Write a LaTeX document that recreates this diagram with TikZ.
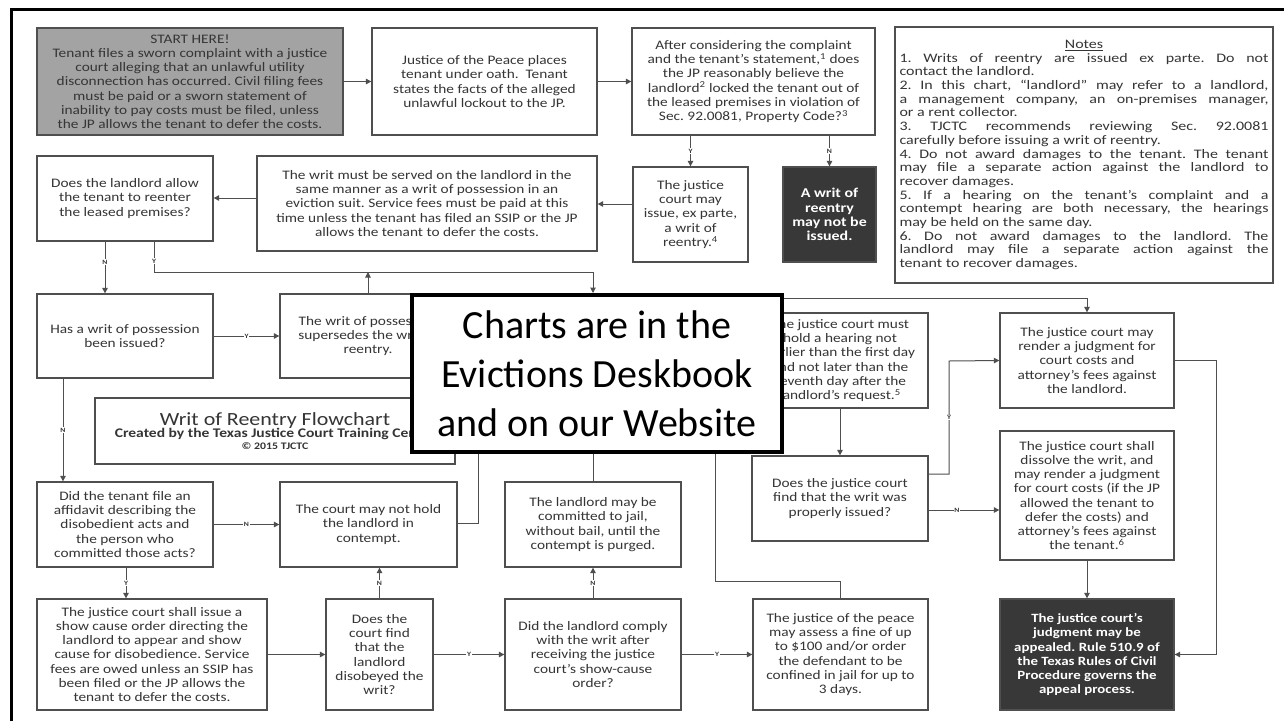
\documentclass[tikz,border=0pt]{standalone}
\usepackage{fontspec}
\setmainfont[FakeStretch=1.18]{Carlito}
\newfontfamily\plainfont{Carlito}
\newfontfamily\notesfont[FakeStretch=1.23]{Carlito}
\usetikzlibrary{arrows.meta,calc}
\definecolor{txt}{HTML}{353535}
\definecolor{edge}{HTML}{4F4F4F}
\definecolor{startfill}{HTML}{A3A3A3}
\definecolor{darkfill}{HTML}{383838}
\frenchspacing
\tikzset{
 box/.style={draw=edge, line width=1.3pt, fill=white, text=txt, align=center, inner sep=1pt, font=\fontsize{13}{14.2}\selectfont},
 dark/.style={fill=darkfill, text=white, font=\bfseries\fontsize{12.6}{14.2}\selectfont},
 conn/.style={draw=edge, line width=1pt, -{Triangle[length=5.5pt,width=5.5pt]}},
 plainline/.style={draw=edge, line width=1pt},
 lbl/.style={fill=white, text=txt, inner sep=0.8pt, font=\bfseries\fontsize{6.5}{7}\selectfont},
}
\newcommand\mybox[7][]{\node[box,#1,minimum width={(#5)-(#3)},minimum height={(#6)-(#4)}] (#2) at ({((#3)+(#5))/2},{((#4)+(#6))/2}) {#7};}
\newcommand\jline[1]{\makebox[369pt][s]{#1}\par}
\newcommand\lline[1]{\makebox[369pt][l]{#1}\par}
\begin{document}
\begin{tikzpicture}[x=1pt,y=-1pt]
\useasboundingbox (0,0) rectangle (1284,721);
\fill[white] (0,0) rectangle (1284,721);
\draw[line width=3pt] (11,721) -- (11,9) -- (1284,9);
% boxes
\mybox[fill=startfill]{start}{37}{28}{343}{135}{START HERE!\\Tenant files a sworn complaint with a justice\\court alleging that an unlawful utility\\disconnection has occurred. Civil filing fees\\must be paid or a sworn statement of\\inability to pay costs must be filed, unless\\the JP allows the tenant to defer the costs.}
\mybox{jp}{372}{28}{597}{135}{Justice of the Peace places\\tenant under oath.\ \ Tenant\\states the facts of the alleged\\unlawful lockout to the JP.}
\mybox{after}{632}{28}{875}{135}{After considering the complaint\\and the tenant’s statement,\textsuperscript{1} does\\the JP reasonably believe the\\landlord\textsuperscript{2} locked the tenant out of\\the leased premises in violation of\\Sec. 92.0081, Property Code?\textsuperscript{3}}
\node[draw=edge, line width=1.3pt, fill=white, text=txt, minimum width=378, minimum height=256, inner sep=0pt] (notes) at (1084,155) {\parbox{369pt}{\notesfont\fontsize{13}{13.7}\selectfont
\centerline{\underline{Notes}}\par
\jline{1. Writs of reentry are issued ex parte. Do not}
\lline{contact the landlord.}
\jline{2. In this chart, “landlord” may refer to a landlord,}
\jline{a management company, an on-premises manager,}
\lline{or a rent collector.}
\jline{3. TJCTC recommends reviewing Sec. 92.0081}
\lline{carefully before issuing a writ of reentry.}
\jline{4. Do not award damages to the tenant. The tenant}
\jline{may file a separate action against the landlord to}
\lline{recover damages.}
\jline{5. If a hearing on the tenant’s complaint and a}
\jline{contempt hearing are both necessary, the hearings}
\lline{may be held on the same day.}
\jline{6. Do not award damages to the landlord. The}
\jline{landlord may file a separate action against the}
\lline{tenant to recover damages.}}};
\mybox{allow}{37}{156}{213}{241}{Does the landlord allow\\the tenant to reenter\\the leased premises?}
\mybox{served}{257}{156}{597}{251}{The writ must be served on the landlord in the\\same manner as a writ of possession in an\\eviction suit. Service fees must be paid at this\\time unless the tenant has filed an SSIP or the JP\\allows the tenant to defer the costs.}
\mybox{may}{633}{167}{748}{262}{The justice\\court may\\issue, ex parte,\\a writ of\\reentry.\textsuperscript{4}}
\mybox[dark,font=\bfseries\fontsize{13.5}{14.3}\selectfont]{notissued}{783}{167}{876}{262}{A writ of\\reentry\\may not be\\issued.}
\mybox{haswrit}{37}{294}{213}{378}{Has a writ of possession\\been issued?}
\mybox{supersedes}{280}{294}{456}{378}{The writ of possession\\supersedes the writ of\\reentry.}
\mybox{musthold}{752}{313}{928}{408}{The justice court must\\hold a hearing not\\earlier than the first day\\and not later than the\\seventh day after the\\landlord’s request.\textsuperscript{5}}
\mybox{render}{1000}{313}{1174}{408}{The justice court may\\render a judgment for\\court costs and\\attorney’s fees against\\the landlord.}
\mybox{doesjustice}{752}{456}{928}{541}{Does the justice court\\find that the writ was\\properly issued?}
\mybox{dissolve}{1000}{431}{1174}{560}{The justice court shall\\dissolve the writ, and\\may render a judgment\\for court costs (if the JP\\allowed the tenant to\\defer the costs) and\\attorney’s fees against\\the tenant.\textsuperscript{6}}
\mybox[dark]{appeal}{1000}{599}{1174}{710}{The justice court’s\\judgment may be\\appealed. Rule 510.9 of\\the Texas Rules of Civil\\Procedure governs the\\appeal process.}
\mybox{title}{95}{398}{455}{464}{{\fontsize{18.6}{22}\selectfont Writ of Reentry Flowchart}\\[-2pt]{\bfseries\fontsize{13.2}{14}\selectfont Created by the Texas Justice Court Training Center}\\[-2pt]{\bfseries\fontsize{10}{11}\selectfont © 2015 TJCTC}}
\mybox{affidavit}{37}{482}{213}{567}{Did the tenant file an\\affidavit describing the\\disobedient acts and\\the person who\\committed those acts?}
\mybox{nothold}{280}{482}{457}{567}{The court may not hold\\the landlord in\\contempt.}
\mybox{committed}{505}{482}{681}{567}{The landlord may be\\committed to jail,\\without bail, until the\\contempt is purged.}
\mybox{showcause}{37}{599}{267}{710}{The justice court shall issue a\\show cause order directing the\\landlord to appear and show\\cause for disobedience. Service\\fees are owed unless an SSIP has\\been filed or the JP allows the\\tenant to defer the costs.}
\mybox{courtfind}{326}{599}{433}{710}{Does the\\court find\\that the\\landlord\\disobeyed the\\writ?}
\mybox{comply}{505}{599}{681}{710}{Did the landlord comply\\with the writ after\\receiving the justice\\court’s show-cause\\order?}
\mybox{fine}{753}{599}{928}{710}{The justice of the peace\\may assess a fine of up\\to \$100 and/or order\\the defendant to be\\confined in jail for up to\\3 days.}
% hidden ends (under the overlay)
\coordinate (hY) at (593,293);
\coordinate (h1) at (478,440);
\coordinate (h2) at (593,440);
\coordinate (h3) at (715,440);
\coordinate (h4) at (770,298);
% connectors
\draw[conn] (start.east) -- (jp.west);
\draw[conn] (jp.east) -- (after.west);
\draw[conn] (may.north |- after.south) -- node[lbl]{Y} (may.north);
\draw[conn] (notissued.north |- after.south) -- node[lbl]{N} (notissued.north);
\draw[conn] (may.west |- 0,204) -- (served.east |- 0,204);
\draw[conn] (served.west |- 0,198) -- (allow.east |- 0,198);
\draw[conn] (allow.south -| 105,0) -- node[lbl,pos=0.4]{N} (haswrit.north -| 105,0);
\draw[conn] (allow.south -| 154,0) -- node[lbl,pos=0.65]{Y} (154,272) -- (593,272) -- (hY);
\draw[conn] (supersedes.north) -- (supersedes.north |- 0,272);
\draw[conn] (haswrit.east) -- node[lbl]{Y} (supersedes.west);
\draw[conn] (haswrit.south -| 63,0) -- node[lbl]{N} (affidavit.north -| 63,0);
\draw[conn] (affidavit.east) -- node[lbl]{N} (nothold.west);
\draw[conn] (affidavit.south -| 126,0) -- node[lbl]{Y} (showcause.north -| 126,0);
\draw[conn] (showcause.east) -- (courtfind.west);
\draw[conn] (courtfind.north) -- node[lbl]{N} (nothold.south -| courtfind.north);
\draw[conn] (courtfind.east) -- node[lbl]{Y} (comply.west);
\draw[conn] (comply.north) -- node[lbl]{N} (committed.south);
\draw[conn] (comply.east) -- node[lbl]{Y} (fine.west);
\draw[plainline] (h1) -- (478,523) -- (nothold.east |- 0,523);
\draw[plainline] (h2) -- (committed.north);
\draw[plainline] (h3) -- (715,581) -- (fine.north |- 0,581) -- (fine.north);
\draw[conn] (h4) -- (render.north |- 0,298) -- (render.north);
\draw[conn] (musthold.south) -- (doesjustice.north);
\draw[conn] (doesjustice.east |- 0,474) -- (949,474) -- node[lbl]{Y} (949,361) -- (render.west);
\draw[conn] (doesjustice.east |- 0,510) -- node[lbl,pos=0.4]{N} (dissolve.west |- 0,510);
\draw[conn] (dissolve.south) -- (appeal.north);
\draw[conn] (render.east) -- (1216,360.5) -- (1216,654.5) -- (appeal.east);
% overlay
\node[draw=black, line width=4pt, fill=white, minimum width=370, minimum height=157, align=center, inner sep=0pt, font=\plainfont\fontsize{40}{49}\selectfont] (ad) at (597,373.5) {Charts are in the\\Evictions Deskbook\\and on our Website};
\end{tikzpicture}
\end{document}
